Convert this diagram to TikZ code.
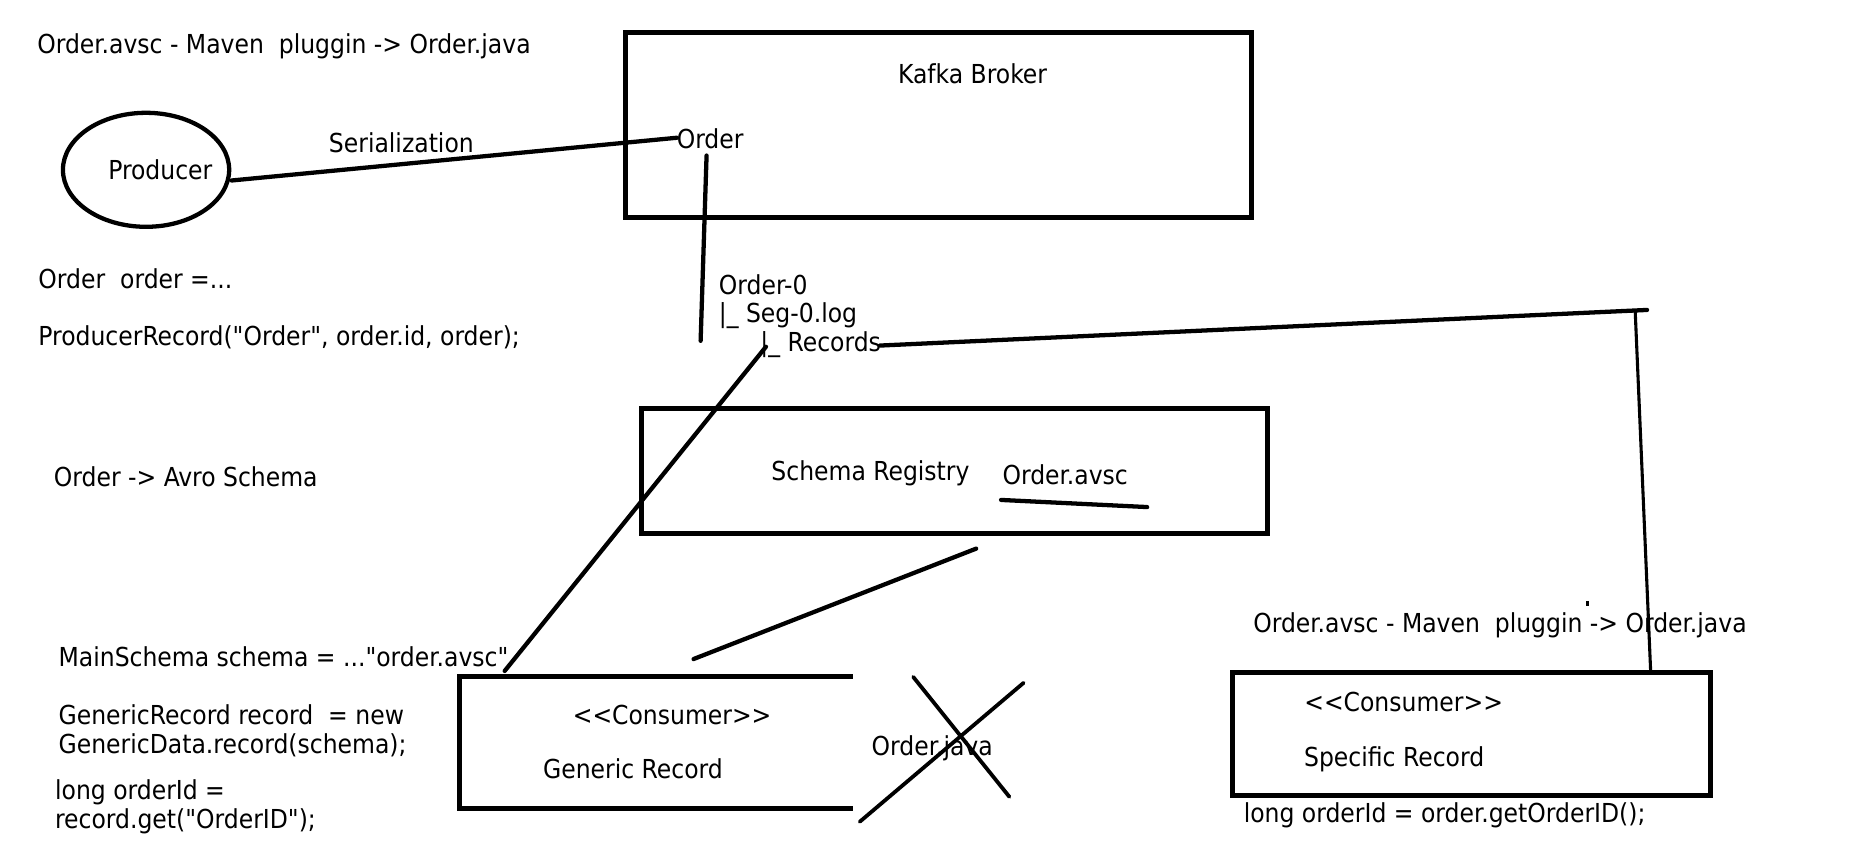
\documentclass[tikz,border=0pt]{standalone}
\usepackage{fontspec}
\newfontfamily\dfont{DejaVu Sans Condensed}
\usetikzlibrary{shapes.geometric}
\begin{document}
\begin{tikzpicture}[x=0.5pt,y=-0.5pt,
  font=\dfont\fontsize{11}{12}\selectfont,
  txt/.style={inner sep=0pt, text height=8pt, text depth=2.3pt, yshift=-1.3pt},
  lbl/.style={txt, anchor=west},
  box/.style={draw, line width=2.1pt, inner sep=0pt},
  conn/.style={line width=1.8pt, line cap=round},
  thinconn/.style={line width=1.3pt, line cap=round}]
\useasboundingbox (0,0) rectangle (1568,711.6);
% top-left texts
\node[lbl] (mvn1) at (31,37) {Order.avsc - Maven\ \ pluggin -> Order.java};
\node[draw, ellipse, line width=1.8pt, minimum width=70pt, minimum height=48pt, inner sep=0pt] (prod) at (123,143) {};
\node[txt] (prodt) at (135,143) {Producer};
\node[lbl] (ord1) at (32,235) {Order\ \ order =...};
\node[lbl] (prec) at (32,283) {ProducerRecord("Order", order.id, order);};
\node[lbl] (avro) at (45,401) {Order -> Avro Schema};
% Kafka broker
\node[box, minimum width=263.5pt, minimum height=78pt] (kafka) at (790.5,105) {};
\node[txt] (kafkat) at (819,62) {Kafka Broker};
\node[txt] (order) at (598,117) {Order};
\node[txt] (ser) at (338,120) {Serialization};
\coordinate (pstart) at (195,152);
\coordinate (ostart) at (570,116);
\draw[conn] (pstart) -- (ostart);
% partition text
\node[lbl] (p0) at (605,240) {Order-0};
\node[lbl] (seg) at (605,263) {|\_ Seg-0.log};
\node[lbl] (rec) at (640,288) {|\_ Records};
\coordinate (vtop) at (595,131);
\coordinate (vbot) at (590,287);
\draw[conn] (vtop) -- (vbot);
% line to right consumer
\coordinate (recend) at (741,291);
\coordinate (rcorner) at (1387,261);
\coordinate (rvtop) at (1377,262);
\coordinate (rvbot) at (1390,565);
\draw[conn] (recend) -- (rcorner);
\draw[thinconn] (rvtop) -- (rvbot);
% line to generic
\coordinate (recbar) at (645,292);
\coordinate (genend) at (425,565);
\draw[conn] (recbar) -- (genend);
% schema registry
\node[box, minimum width=263.5pt, minimum height=52.5pt] (sr) at (803.5,396.5) {};
\node[txt] (srt) at (733,396) {Schema Registry};
\node[txt] (sravsc) at (897,400) {Order.avsc};
\coordinate (ul1) at (843,421);
\coordinate (ul2) at (966,427);
\draw[conn] (ul1) -- (ul2);
\coordinate (srl1) at (822,462);
\coordinate (srl2) at (584,555);
\draw[conn] (srl1) -- (srl2);
% generic consumer (open box)
\coordinate (g1) at (718,570);
\coordinate (g2) at (387,570);
\coordinate (g3) at (387,681);
\coordinate (g4) at (718,681);
\draw[line width=2.1pt] (g1) -- (g2) -- (g3) -- (g4);
\node[txt] (gc) at (566,602) {<{}<Consumer>{}>};
\node[txt] (gr) at (533,647) {Generic Record};
\node[txt] (oj) at (785,628) {Order.java};
\coordinate (x1a) at (769,570);
\coordinate (x1b) at (850,671);
\coordinate (x2a) at (862,575);
\coordinate (x2b) at (724,692);
\draw[line width=1.6pt, line cap=round] (x1a) -- (x1b);
\draw[line width=1.6pt, line cap=round] (x2a) -- (x2b);
% left code texts
\node[lbl] (ms) at (49,553) {MainSchema schema = ..."order.avsc"};
\node[lbl] (gr1) at (49,602) {GenericRecord record\ \ = new};
\node[lbl] (gr2) at (49,626) {GenericData.record(schema);};
\node[lbl] (lo1) at (46,665) {long orderId =};
\node[lbl] (lo2) at (46,689) {record.get("OrderID");};
% right consumer
\node[lbl] (mvn2) at (1055,524) {Order.avsc - Maven\ \ pluggin -> Order.java};
\coordinate (dota) at (1337,506);
\coordinate (dotb) at (1337,510);
\draw[line width=1.5pt] (dota) -- (dotb);
\node[box, minimum width=201pt, minimum height=52pt] (spec) at (1239,618) {};
\node[txt] (sc) at (1182,591) {<{}<Consumer>{}>};
\node[txt] (sr2) at (1174,637) {Specific Record};
\node[lbl] (lo3) at (1047,684) {long orderId = order.getOrderID();};
\end{tikzpicture}
\end{document}
